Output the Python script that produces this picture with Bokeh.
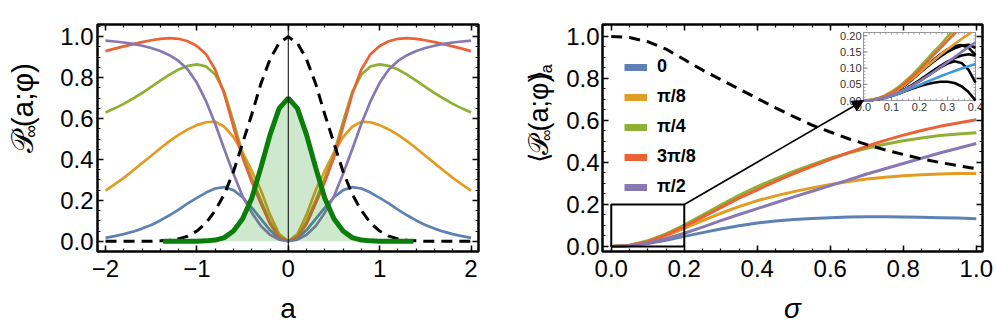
import math
from bokeh.plotting import figure
from bokeh.layouts import row
from bokeh.models import (Range1d, LinearAxis, Span, Arrow, NormalHead, Legend, LegendItem,
                          SingleIntervalTicker, PrintfTickFormatter, CustomJSTickFormatter)
from bokeh.core.properties import value
from bokeh.embed import file_html
from bokeh.resources import INLINE

FONT = "Liberation Sans"
FONT_BR = "DejaVu Sans"

# ---------------- left panel data ----------------
a_grid = [round(-2.0 + 0.1 * i, 1) for i in range(41)]
phi0 = [0.017, 0.025, 0.035, 0.047, 0.062, 0.08, 0.102, 0.127, 0.155, 0.185, 0.212, 0.238, 0.258, 0.265, 0.25, 0.215, 0.165, 0.11, 0.055, 0.015, 0.0,
        0.015, 0.055, 0.11, 0.165, 0.215, 0.25, 0.265, 0.258, 0.238, 0.212, 0.185, 0.155, 0.127, 0.102, 0.08, 0.062, 0.047, 0.035, 0.025, 0.017]
phi_pi8 = [0.248, 0.278, 0.31, 0.346, 0.382, 0.418, 0.455, 0.49, 0.52, 0.547, 0.568, 0.582, 0.585, 0.56, 0.51, 0.435, 0.345, 0.25, 0.13, 0.035, 0.0,
           0.035, 0.13, 0.25, 0.345, 0.435, 0.51, 0.56, 0.585, 0.582, 0.568, 0.547, 0.52, 0.49, 0.455, 0.418, 0.382, 0.346, 0.31, 0.278, 0.248]
phi_pi4 = [0.63, 0.65, 0.672, 0.698, 0.725, 0.755, 0.785, 0.815, 0.84, 0.858, 0.865, 0.855, 0.815, 0.73, 0.585, 0.43, 0.31, 0.2, 0.095, 0.025, 0.0,
           0.025, 0.095, 0.2, 0.31, 0.43, 0.585, 0.73, 0.815, 0.855, 0.865, 0.858, 0.84, 0.815, 0.785, 0.755, 0.725, 0.698, 0.672, 0.65, 0.63]
phi_3pi8 = [0.93, 0.942, 0.953, 0.964, 0.974, 0.983, 0.99, 0.993, 0.99, 0.978, 0.955, 0.915, 0.84, 0.72, 0.56, 0.41, 0.29, 0.185, 0.085, 0.02, 0.0,
            0.02, 0.085, 0.185, 0.29, 0.41, 0.56, 0.72, 0.84, 0.915, 0.955, 0.978, 0.99, 0.993, 0.99, 0.983, 0.974, 0.964, 0.953, 0.942, 0.93]
phi_pi2 = [0.981, 0.977, 0.972, 0.965, 0.956, 0.945, 0.93, 0.91, 0.882, 0.84, 0.775, 0.685, 0.575, 0.45, 0.33, 0.22, 0.14, 0.075, 0.032, 0.008, 0.0,
           0.008, 0.032, 0.075, 0.14, 0.22, 0.33, 0.45, 0.575, 0.685, 0.775, 0.84, 0.882, 0.91, 0.93, 0.945, 0.956, 0.965, 0.972, 0.977, 0.981]
initial_dist = [0.0, 0.0, 0.0, 0.0, 0.0, 0.0, 0.002, 0.005, 0.012, 0.025, 0.05, 0.09, 0.15, 0.23, 0.34, 0.48, 0.62, 0.77, 0.89, 0.97, 1.0,
                0.97, 0.89, 0.77, 0.62, 0.48, 0.34, 0.23, 0.15, 0.09, 0.05, 0.025, 0.012, 0.005, 0.002, 0.0, 0.0, 0.0, 0.0, 0.0, 0.0]
a_window = [-1.37, -1.3, -1.2, -1.1, -1.0, -0.9, -0.8, -0.7, -0.6, -0.5, -0.4, -0.3, -0.2, -0.1, 0.0,
            0.1, 0.2, 0.3, 0.4, 0.5, 0.6, 0.7, 0.8, 0.9, 1.0, 1.1, 1.2, 1.3, 1.37]
window_dist = [0.0, 0.0, 0.0, 0.0, 0.0005, 0.002, 0.006, 0.018, 0.05, 0.11, 0.21, 0.36, 0.52, 0.65, 0.70,
               0.65, 0.52, 0.36, 0.21, 0.11, 0.05, 0.018, 0.006, 0.002, 0.0005, 0.0, 0.0, 0.0, 0.0]

# ---------------- right panel data ----------------
sigma = [round(0.05 * i, 2) for i in range(21)]
avg_phi0 = [0, 0.004, 0.014, 0.03, 0.048, 0.066, 0.083, 0.099, 0.112, 0.121, 0.128, 0.133, 0.137, 0.14, 0.141, 0.141, 0.14, 0.139, 0.137, 0.135, 0.132]
avg_pi8 = [0, 0.005, 0.022, 0.05, 0.086, 0.123, 0.158, 0.19, 0.218, 0.241, 0.261, 0.279, 0.295, 0.309, 0.321, 0.33, 0.337, 0.342, 0.345, 0.347, 0.348]
avg_pi4 = [0, 0.006, 0.027, 0.06, 0.102, 0.15, 0.197, 0.243, 0.285, 0.322, 0.357, 0.39, 0.42, 0.445, 0.468, 0.487, 0.503, 0.517, 0.528, 0.536, 0.542]
avg_3pi8 = [0, 0.005, 0.023, 0.055, 0.095, 0.14, 0.185, 0.23, 0.27, 0.31, 0.347, 0.382, 0.415, 0.447, 0.477, 0.505, 0.53, 0.552, 0.572, 0.588, 0.603]
avg_pi2 = [0, 0.003, 0.015, 0.037, 0.063, 0.092, 0.123, 0.152, 0.18, 0.208, 0.236, 0.263, 0.29, 0.317, 0.345, 0.37, 0.395, 0.42, 0.445, 0.468, 0.49]
avg_ref = [1.0, 0.995, 0.975, 0.94, 0.89, 0.84, 0.795, 0.75, 0.705, 0.66, 0.618, 0.578, 0.545, 0.513, 0.485, 0.46, 0.438, 0.417, 0.4, 0.385, 0.37]
phi_labels = ["0", "π/8", "π/4", "3π/8", "π/2"]

# zoom region (main axes) and inset limits
zoom_x = [0.0, 0.2]
zoom_y = [0.0, 0.2]
inset_x = [0.0, 0.4]
inset_y = [0.0, 0.21]
inset_xticks = [0.0, 0.1, 0.2, 0.3, 0.4]
inset_xlabels = ["0.0", "0.1", "0.2", "0.3", "0.4"]
inset_yticks = [0.0, 0.05, 0.10, 0.15, 0.20]
inset_ylabels = ["0.00", "0.05", "0.10", "0.15", "0.20"]

# inset curves
sig_in = [round(0.025 * i, 3) for i in range(17)]
in_phi0 = [0, 0.001, 0.004, 0.008, 0.014, 0.021, 0.03, 0.039, 0.048, 0.057, 0.066, 0.075, 0.083, 0.091, 0.099, 0.106, 0.113]
in_pi2 = [0, 0.001, 0.004, 0.009, 0.016, 0.025, 0.035, 0.047, 0.06, 0.074, 0.088, 0.103, 0.118, 0.134, 0.15, 0.165, 0.18]
sig_in_pi8 = [0, 0.025, 0.05, 0.075, 0.1, 0.125, 0.15, 0.175, 0.2, 0.225, 0.25, 0.275, 0.3, 0.325, 0.35, 0.375, 0.385]
in_pi8 = [0, 0.001, 0.005, 0.012, 0.022, 0.034, 0.05, 0.067, 0.086, 0.105, 0.123, 0.141, 0.158, 0.174, 0.19, 0.204, 0.21]
sig_in_3pi8 = [0, 0.025, 0.05, 0.075, 0.1, 0.125, 0.15, 0.175, 0.2, 0.225, 0.25, 0.275, 0.3, 0.325, 0.33]
in_3pi8 = [0, 0.001, 0.005, 0.013, 0.023, 0.038, 0.055, 0.074, 0.095, 0.117, 0.14, 0.162, 0.185, 0.206, 0.21]
sig_in_pi4 = [0, 0.025, 0.05, 0.075, 0.1, 0.125, 0.15, 0.175, 0.2, 0.225, 0.25, 0.275, 0.3, 0.315]
in_pi4 = [0, 0.002, 0.006, 0.015, 0.027, 0.042, 0.06, 0.08, 0.102, 0.126, 0.15, 0.172, 0.197, 0.21]
approx_1 = [0, 0.001, 0.004, 0.008, 0.014, 0.021, 0.029, 0.037, 0.044, 0.05, 0.055, 0.058, 0.058, 0.054, 0.044, 0.026, 0.0]
approx_2 = [0, 0.001, 0.004, 0.009, 0.016, 0.025, 0.035, 0.047, 0.06, 0.074, 0.088, 0.102, 0.114, 0.121, 0.116, 0.095, 0.055]
approx_3 = [0, 0.001, 0.004, 0.009, 0.016, 0.025, 0.036, 0.049, 0.063, 0.078, 0.093, 0.107, 0.12, 0.131, 0.139, 0.143, 0.138]
approx_4 = [0, 0.001, 0.005, 0.012, 0.022, 0.034, 0.049, 0.066, 0.085, 0.105, 0.125, 0.143, 0.158, 0.168, 0.171, 0.163, 0.14]
approx_5 = [0, 0.001, 0.005, 0.012, 0.022, 0.034, 0.049, 0.066, 0.085, 0.103, 0.12, 0.136, 0.15, 0.161, 0.169, 0.172, 0.163]

# ---------------- styles ----------------
C_BLUE, C_ORANGE, C_GREEN, C_RED, C_PURPLE = "#5E81B5", "#E19C24", "#8FB032", "#EB6235", "#8778B3"
C_LBLUE = "#3D9AD6"
C_DKGREEN = "#0A7D0A"
colors = [C_BLUE, C_ORANGE, C_GREEN, C_RED, C_PURPLE]
TICK_FS = "24px"
TOTAL_H = 331
FRAME_H = 227
BORDER_TOP = 24
BORDER_BOTTOM = TOTAL_H - FRAME_H - BORDER_TOP


def style_frame(p, xticker, yticker, xfmt, yfmt, y_standoff, xlabel, xlabel_style):
    p.xgrid.visible = False
    p.ygrid.visible = False
    p.outline_line_color = "black"
    p.outline_line_width = 2.5
    bottom = p.below[0]
    left = p.left[0]
    bottom.ticker = xticker
    bottom.formatter = xfmt
    left.ticker = yticker
    left.formatter = yfmt
    blank = CustomJSTickFormatter(code="return '';")
    top = LinearAxis(ticker=xticker, formatter=blank, major_label_text_font_size="0px", major_label_standoff=0)
    right = LinearAxis(ticker=yticker, formatter=blank, major_label_text_font_size="0px", major_label_standoff=0)
    p.add_layout(top, "above")
    p.add_layout(right, "right")
    for ax in [bottom, left, top, right]:
        ax.axis_line_color = None
        ax.major_tick_in = 6
        ax.major_tick_out = 0
        ax.minor_tick_in = 3
        ax.minor_tick_out = 0
        ax.major_tick_line_width = 1.5
        ax.minor_tick_line_width = 1.2
        ax.major_tick_line_color = "black"
        ax.minor_tick_line_color = "black"
    for ax in [bottom, left]:
        ax.major_label_text_font = FONT
        ax.major_label_text_font_size = TICK_FS
        ax.major_label_text_color = "black"
    bottom.major_label_standoff = 8
    left.major_label_standoff = y_standoff
    bottom.axis_label = xlabel
    bottom.axis_label_text_font = FONT
    bottom.axis_label_text_font_size = "28px"
    bottom.axis_label_text_font_style = xlabel_style
    bottom.axis_label_text_color = "black"
    bottom.axis_label_standoff = 13


def label_figure(width, pieces):
    """A narrow canvas holding a rotated, composite axis title (pixel coordinates)."""
    lf = figure(width=width, height=TOTAL_H, x_range=Range1d(0, width), y_range=Range1d(0, TOTAL_H),
                output_backend="svg", toolbar_location=None, min_border=0)
    lf.axis.visible = False
    lf.grid.visible = False
    lf.outline_line_color = None
    for (px, py, txt, fs, fnt) in pieces:
        lf.text(x=[px], y=[py], text=[txt], angle=math.pi / 2, text_font=value(fnt),
                text_font_size=value(fs), text_align="left", text_baseline="middle", text_color="black")
    return lf


# ---------------- left figure ----------------
p1 = figure(frame_width=381, frame_height=FRAME_H, x_range=Range1d(-2.088, 2.082), y_range=Range1d(-0.05, 1.06),
            output_backend="svg", toolbar_location=None,
            min_border_left=57, min_border_right=20, min_border_top=BORDER_TOP, min_border_bottom=BORDER_BOTTOM)
style_frame(p1, SingleIntervalTicker(interval=1, num_minor_ticks=5),
            SingleIntervalTicker(interval=0.2, num_minor_ticks=4),
            CustomJSTickFormatter(code="return tick < 0 ? '\\u2212' + Math.abs(tick) : String(tick);"),
            PrintfTickFormatter(format="%.1f"), 4, "a", "normal")

for ys, c in zip([phi0, phi_pi8, phi_pi4, phi_3pi8, phi_pi2], colors):
    p1.line(a_grid, ys, line_color=c, line_width=2.7)
p1.varea(x=a_window, y1=0, y2=window_dist, fill_color="#0A8A0A", fill_alpha=0.2)
p1.add_layout(Span(location=0, dimension="height", line_color="black", line_width=1))
p1.line(a_grid, initial_dist, line_color="black", line_width=3, line_dash="11 7")
p1.line(a_window, window_dist, line_color=C_DKGREEN, line_width=5)

lab1 = label_figure(40, [(22, 143, "𝒫", "30px", FONT), (30, 166, "∞", "18px", FONT),
                         (22, 181, "(a;φ)", "30px", FONT)])

# ---------------- right figure ----------------
FW2, FH2 = 380, FRAME_H
p2 = figure(frame_width=FW2, frame_height=FH2, x_range=Range1d(-0.024, 1.017), y_range=Range1d(-0.024, 1.057),
            output_backend="svg", toolbar_location=None,
            min_border_left=42, min_border_right=12, min_border_top=BORDER_TOP, min_border_bottom=BORDER_BOTTOM)
style_frame(p2, SingleIntervalTicker(interval=0.2, num_minor_ticks=4),
            SingleIntervalTicker(interval=0.2, num_minor_ticks=4),
            PrintfTickFormatter(format="%.1f"), PrintfTickFormatter(format="%.1f"), 3, "σ", "italic")

for ys, c in zip([avg_phi0, avg_pi8, avg_pi4, avg_3pi8, avg_pi2], colors):
    p2.line(sigma, ys, line_color=c, line_width=3)
p2.line(sigma, avg_ref, line_color="black", line_width=3, line_dash="11 7")
p2.quad(left=[zoom_x[0]], right=[zoom_x[1]], bottom=[zoom_y[0]], top=[zoom_y[1]],
        fill_color=None, line_color="black", line_width=2)

# inset placement (pixels inside the right frame)
IN_L, IN_R, IN_B, IN_T = 261, 373, 151, 219


def mapped_range(lo, hi, p_lo, p_hi, full):
    s = (hi - lo) / (p_hi - p_lo)
    return Range1d(lo - p_lo * s, lo + (full - p_lo) * s)


p2.extra_x_ranges = {"ix": mapped_range(inset_x[0], inset_x[1], IN_L, IN_R, FW2)}
p2.extra_y_ranges = {"iy": mapped_range(inset_y[0], inset_y[1], IN_B, IN_T, FH2)}
ik = dict(x_range_name="ix", y_range_name="iy")

p2.add_layout(Arrow(x_start=zoom_x[1], y_start=zoom_y[1], start_units="data",
                    x_end=IN_L, y_end=IN_B, end_units="screen", line_color="black", line_width=1.6,
                    end=NormalHead(size=11, fill_color="black", line_color="black")))

p2.quad(left=[inset_x[0]], right=[inset_x[1]], bottom=[inset_y[0]], top=[inset_y[1]],
        fill_color="white", line_color="#9a9a9a", line_width=1, **ik)
minor_x = [round(0.02 * i, 2) for i in range(21)]
minor_y = [round(0.01 * i, 2) for i in range(22)]
TK = "#8a8a8a"
p2.ray(x=minor_x, y=[inset_y[0]] * len(minor_x), length=2, length_units="screen", angle=90, angle_units="deg", line_color=TK, line_width=0.8, **ik)
p2.ray(x=minor_x, y=[inset_y[1]] * len(minor_x), length=2, length_units="screen", angle=-90, angle_units="deg", line_color=TK, line_width=0.8, **ik)
p2.ray(x=[inset_x[0]] * len(minor_y), y=minor_y, length=2, length_units="screen", angle=0, angle_units="deg", line_color=TK, line_width=0.8, **ik)
p2.ray(x=[inset_x[1]] * len(minor_y), y=minor_y, length=2, length_units="screen", angle=180, angle_units="deg", line_color=TK, line_width=0.8, **ik)
p2.ray(x=inset_xticks, y=[inset_y[0]] * 5, length=4, length_units="screen", angle=90, angle_units="deg", line_color=TK, line_width=1, **ik)
p2.ray(x=[inset_x[0]] * 5, y=inset_yticks, length=4, length_units="screen", angle=0, angle_units="deg", line_color=TK, line_width=1, **ik)

for ys in [approx_1, approx_2, approx_3, approx_4, approx_5]:
    p2.line(sig_in, ys, line_color="black", line_width=2.6, **ik)
p2.line(sig_in, in_phi0, line_color=C_LBLUE, line_width=2.6, **ik)
p2.line(sig_in_pi8, in_pi8, line_color=C_ORANGE, line_width=2.6, **ik)
p2.line(sig_in_pi4, in_pi4, line_color=C_GREEN, line_width=2.6, **ik)
p2.line(sig_in_3pi8, in_3pi8, line_color=C_RED, line_width=2.6, **ik)
p2.line(sig_in, in_pi2, line_color=C_PURPLE, line_width=2.6, **ik)

p2.text(x=inset_xticks, y=[inset_y[0]] * 5, text=inset_xlabels, text_font_size=value("11px"), text_font=value(FONT),
        text_color="#333333", text_align="center", text_baseline="top", y_offset=2, **ik)
p2.text(x=[inset_x[0]] * 5, y=inset_yticks, text=inset_ylabels, text_font_size=value("11px"), text_font=value(FONT),
        text_color="#333333", text_align="right", text_baseline="middle", x_offset=-2, **ik)

# legend with thick swatches (placeholder renderers hold a single NaN point)
items = []
for lab, c in zip(phi_labels, colors):
    r = p2.line(x=[float("nan")], y=[float("nan")], line_color=c, line_width=7)
    items.append(LegendItem(label=lab, renderers=[r]))
leg = Legend(items=items, location=(22, 54), label_text_font=FONT, label_text_font_style="bold",
             label_text_font_size="18px", label_text_color="black", glyph_width=23, glyph_height=20,
             label_height=20, spacing=9, padding=0, margin=0, border_line_color=None,
             background_fill_alpha=0, label_standoff=10)
p2.add_layout(leg)

lab2 = label_figure(62, [(40, 129, "⟨", "27px", FONT_BR), (40, 140, "𝒫", "27px", FONT),
                         (48, 161, "∞", "16px", FONT), (40, 175, "(a;φ)", "27px", FONT),
                         (40, 249, "⟩", "27px", FONT_BR), (48, 260, "a", "16px", FONT)])

layout = row(lab1, p1, lab2, p2)
open("out.html", "w").write(file_html(layout, INLINE))
